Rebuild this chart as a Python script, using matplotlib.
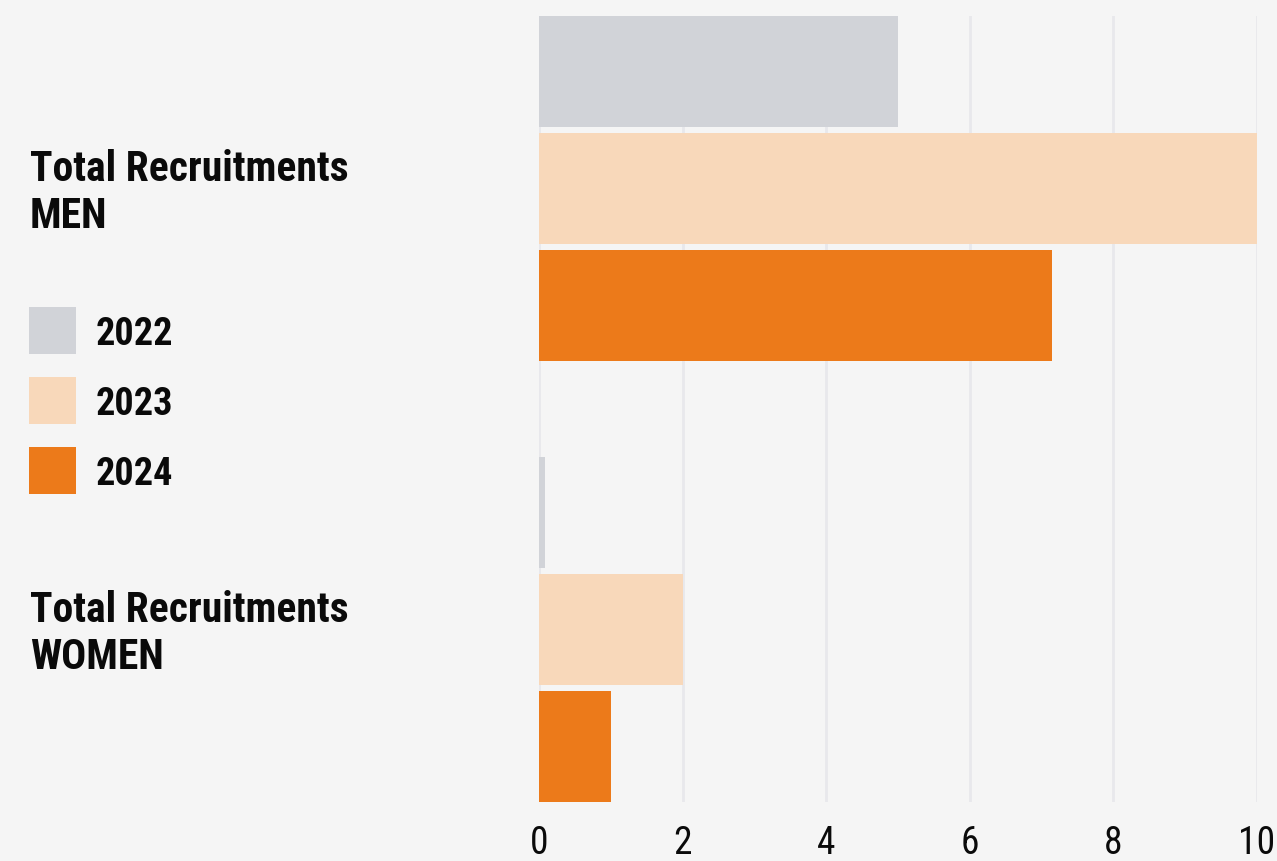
import matplotlib
matplotlib.use("Agg")
import matplotlib.pyplot as plt
from matplotlib import font_manager as fm
from matplotlib.patches import Rectangle
from matplotlib.transforms import ScaledTranslation
import numpy as np

# Data
categories = ["Total Recruitments\nMEN", "Total Recruitments\nWOMEN"]
years = ["2022", "2023", "2024"]
values_2022 = [5, 0.09]
values_2023 = [10, 2]
values_2024 = [7.14, 1]
x_ticks = [0, 2, 4, 6, 8, 10]

colors = {"2022": "#D1D3D8", "2023": "#F8D8BA", "2024": "#EC7A1A"}
bg = "#F5F5F5"
ink = "#0A0A0A"

available = {f.name for f in fm.fontManager.ttflist}
cond = next((n for n in ["Roboto Condensed", "Liberation Sans Narrow", "Roboto"] if n in available), "DejaVu Sans")

W, H, DPI = 1277, 862, 100
fig = plt.figure(figsize=(W / DPI, H / DPI), dpi=DPI, facecolor=bg)
ax = fig.add_axes([539 / W, 1 - 803 / H, (1257 - 539) / W, (803 - 17) / H])
ax.set_facecolor(bg)

y = np.arange(len(categories))
pitch = 0.265
height = 0.252
series = [values_2022, values_2023, values_2024]
for i, (yr, vals) in enumerate(zip(years, series)):
    ax.barh(y + (i - 1) * pitch, vals, height=height, color=colors[yr], zorder=2, linewidth=0)

ax.set_xlim(0, 10)
ax.set_ylim(1.391, -0.391)
ax.set_xticks(x_ticks)
ax.set_xticklabels([str(t) for t in x_ticks], fontfamily=cond, fontsize=27, color=ink)
ax.tick_params(axis="x", length=0, pad=16)
ax.grid(axis="x", color="#E8E8EC", linewidth=2, zorder=0)
for s in ax.spines.values():
    s.set_visible(False)

ax.set_yticks(y)
ax.set_yticklabels(categories, fontfamily=cond, fontweight="bold", fontsize=30, color=ink,
                   ha="left", linespacing=1.18)
ax.tick_params(axis="y", length=0, pad=(539 - 30) * 72 / DPI)
lift = ScaledTranslation(0, 4 / DPI, fig.dpi_scale_trans)
for lbl in ax.get_yticklabels():
    lbl.set_transform(lbl.get_transform() + lift)

# Legend: colour swatches with year labels
sw = 47
for k, yr in enumerate(years):
    top = 308 + 70 * k
    fig.add_artist(Rectangle((29 / W, 1 - (top + sw) / H), sw / W, sw / H,
                             transform=fig.transFigure, facecolor=colors[yr], edgecolor="none"))
    fig.text(96 / W, 1 - (top + 37) / H, yr, fontfamily=cond, fontweight="bold", fontsize=27.5,
             color=ink, ha="left", va="baseline")

fig.savefig("out.png", dpi=DPI, facecolor=bg)
